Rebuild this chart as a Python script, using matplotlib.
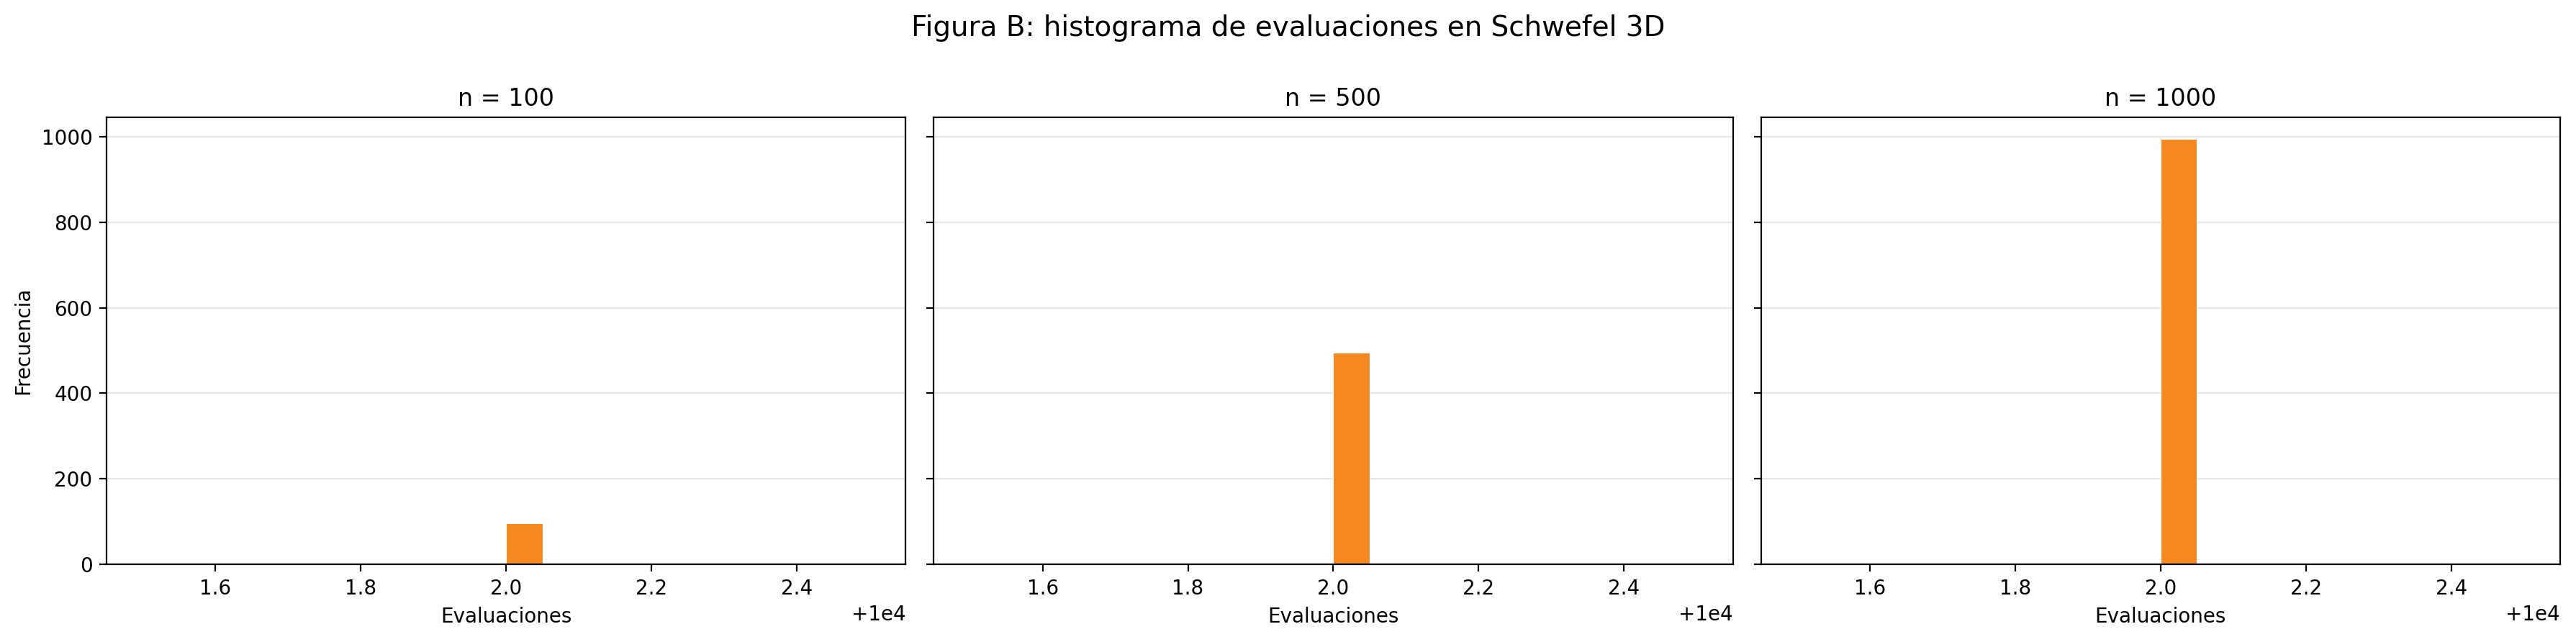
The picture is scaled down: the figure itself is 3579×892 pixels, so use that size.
import numpy as np
import matplotlib
matplotlib.use("Agg")
import matplotlib.pyplot as plt

# data
sample_sizes = [100, 500, 1000]
bin_lo, bin_hi, n_bins = 10001.5, 10002.5, 20
peak_bin = 10
peak_counts = [96, 495, 995]

edges = np.linspace(bin_lo, bin_hi, n_bins + 1)
centers = (edges[:-1] + edges[1:]) / 2

fig, axes = plt.subplots(1, 3, figsize=(17.9, 4.46), dpi=200, sharey=True)
fig.subplots_adjust(left=0.0413, right=0.9936, top=0.817, bottom=0.121, wspace=0.035)

for ax, n, c in zip(axes, sample_sizes, peak_counts):
    counts = np.zeros(n_bins)
    counts[peak_bin] = c
    ax.hist(centers, bins=edges, weights=counts, color="#f5881e",
            edgecolor="white", linewidth=0.4)
    ax.set_title(f"n = {n}", fontsize=12)
    ax.set_xlabel("Evaluaciones")
    ax.grid(axis="y", alpha=0.3)
    ax.set_axisbelow(True)

axes[0].set_ylabel("Frecuencia")
fig.suptitle("Figura B: histograma de evaluaciones en Schwefel 3D", fontsize=14, y=0.978)

fig.savefig("out.png", dpi=200)
plt.close(fig)
